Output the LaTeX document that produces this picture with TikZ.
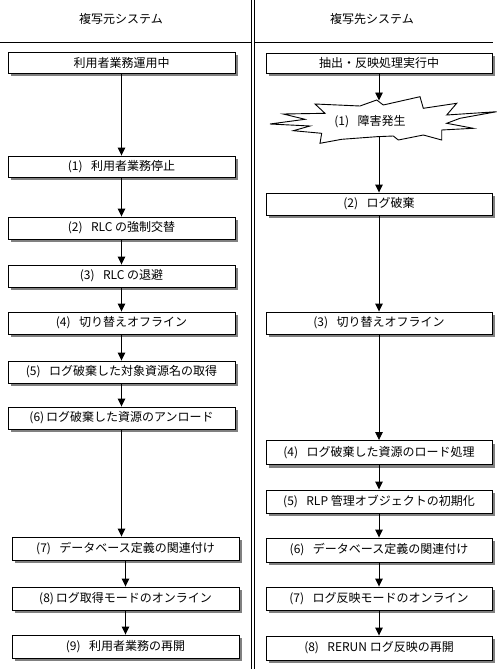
\documentclass[tikz,border=0pt]{standalone}
\usepackage{fontspec}
\setmainfont{Noto Sans CJK JP}
\usetikzlibrary{arrows.meta,shadows}
\newcommand{\pn}[1]{(#1)\hspace{0.7em}}
\newcommand{\pc}[1]{(#1)\hspace{0.15em}}
\tikzset{
  stepbox/.style={draw=black, line width=0.9pt, fill=white, minimum width=227pt,
    minimum height=22pt, inner sep=0pt, font=\fontsize{12pt}{14pt}\selectfont,
    general shadow={fill=black!50, shadow xshift=3pt, shadow yshift=-3pt}},
  flow/.style={-{Triangle[width=7.5pt,length=8pt]}, line width=0.9pt},
  heading/.style={font=\fontsize{12pt}{14pt}\selectfont, inner sep=0pt},
  sepline/.style={line width=0.9pt},
  burst/.style={draw=black, line width=0.9pt, fill=white, line join=miter},
  plain/.style={font=\fontsize{12pt}{14pt}\selectfont, inner sep=0pt}
}
\begin{document}
\begin{tikzpicture}[x=1pt,y=-1pt]
\useasboundingbox (0,0) rectangle (500,669);
% separators
\draw[sepline] (251,0) -- (251,669);
\draw[sepline] (254.5,0) -- (254.5,669);
\draw[sepline] (0,42.5) -- (251,42.5);
\draw[sepline] (254.5,42.5) -- (493,42.5);
% headings
\node[heading] (t1) at (121,19) {複写元システム};
\node[heading] (t2) at (372,19) {複写先システム};
% left column
\node[stepbox, minimum height=21pt] (l0) at (121.5,62.5) {利用者業務運用中};
\node[stepbox, minimum height=21pt] (l1) at (121.5,166.5) {\pn{1}利用者業務停止};
\node[stepbox] (l2) at (121.5,228) {\pn{2}RLC の強制交替};
\node[stepbox] (l3) at (121.5,276) {\pn{3}RLC の退避};
\node[stepbox] (l4) at (121.5,323) {\pn{4}切り替えオフライン};
\node[stepbox] (l5) at (121.5,372) {\pn{5}ログ破棄した対象資源名の取得};
\node[stepbox] (l6) at (121.5,418) {\pc{6}ログ破棄した資源のアンロード};
\node[stepbox, minimum height=23pt] (l7) at (125.5,548.5) {\pn{7}データベース定義の関連付け};
\node[stepbox, minimum height=23pt] (l8) at (125.5,598.5) {\pc{8}ログ取得モードのオンライン};
\node[stepbox, minimum height=23pt] (l9) at (125.5,646.5) {\pn{9}利用者業務の再開};
% right column
\node[stepbox, minimum width=226pt, minimum height=20pt] (r0) at (379,63) {抽出・反映処理実行中};
\draw[burst] (315,104) -- (360,106) -- (376.7,100) -- (383.3,105) -- (420,96.7)
  -- (423.3,108.3) -- (456.7,103.3) -- (446.7,115) -- (496.7,111.7) -- (460,118.3)
  -- (446.7,123.3) -- (473.3,128.3) -- (441.7,130) -- (441.7,140) -- (423.3,135)
  -- (398.3,140) -- (393.3,136) -- (376.7,136.7) -- (341.7,139.3) -- (320,143.3)
  -- (321.7,133.3) -- (293.3,130.7) -- (310,126) -- (270,124) -- (305,119.3)
  -- (283.3,114) -- (325,113.3) -- cycle;
\node[plain] (r1) at (370,122) {\pn{1}障害発生};
\coordinate (r1top) at (379,100.5);
\coordinate (r1bot) at (379,136.5);
\node[stepbox, minimum width=226pt] (r2) at (379,204) {\pn{2}ログ破棄};
\node[stepbox, minimum width=226pt] (r3) at (379,323) {\pn{3}切り替えオフライン};
\node[stepbox, minimum width=226pt, minimum height=24pt] (r4) at (379,452.5) {\pn{4}ログ破棄した資源のロード処理};
\node[stepbox, minimum width=226pt, minimum height=23pt] (r5) at (379,501.5) {\pn{5}RLP 管理オブジェクトの初期化};
\node[stepbox, minimum width=226pt, minimum height=24pt] (r6) at (379,550) {\pn{6}データベース定義の関連付け};
\node[stepbox, minimum width=226pt, minimum height=23pt] (r7) at (379,598.5) {\pn{7}ログ反映モードのオンライン};
\node[stepbox, minimum width=226pt, minimum height=24pt] (r8) at (379,648) {\pn{8}RERUN ログ反映の再開};
% left arrows
\draw[flow] (l0) -- (l1);
\draw[flow] (l1) -- (l2);
\draw[flow] (l2) -- (l3);
\draw[flow] (l3) -- (l4);
\draw[flow] (l4) -- (l5);
\draw[flow] (l5) -- (l6);
\draw[flow] (l6.south) -- (l6.south |- l7.north);
\draw[flow] (l7) -- (l8);
\draw[flow] (l8) -- (l9);
% right arrows
\draw[flow] (r0) -- (r1top);
\draw[flow] (r1bot) -- (r2);
\draw[flow] (r2) -- (r3);
\draw[flow] (r3) -- (r4);
\draw[flow] (r4) -- (r5);
\draw[flow] (r5) -- (r6);
\draw[flow] (r6) -- (r7);
\draw[flow] (r7) -- (r8);
\end{tikzpicture}
\end{document}
